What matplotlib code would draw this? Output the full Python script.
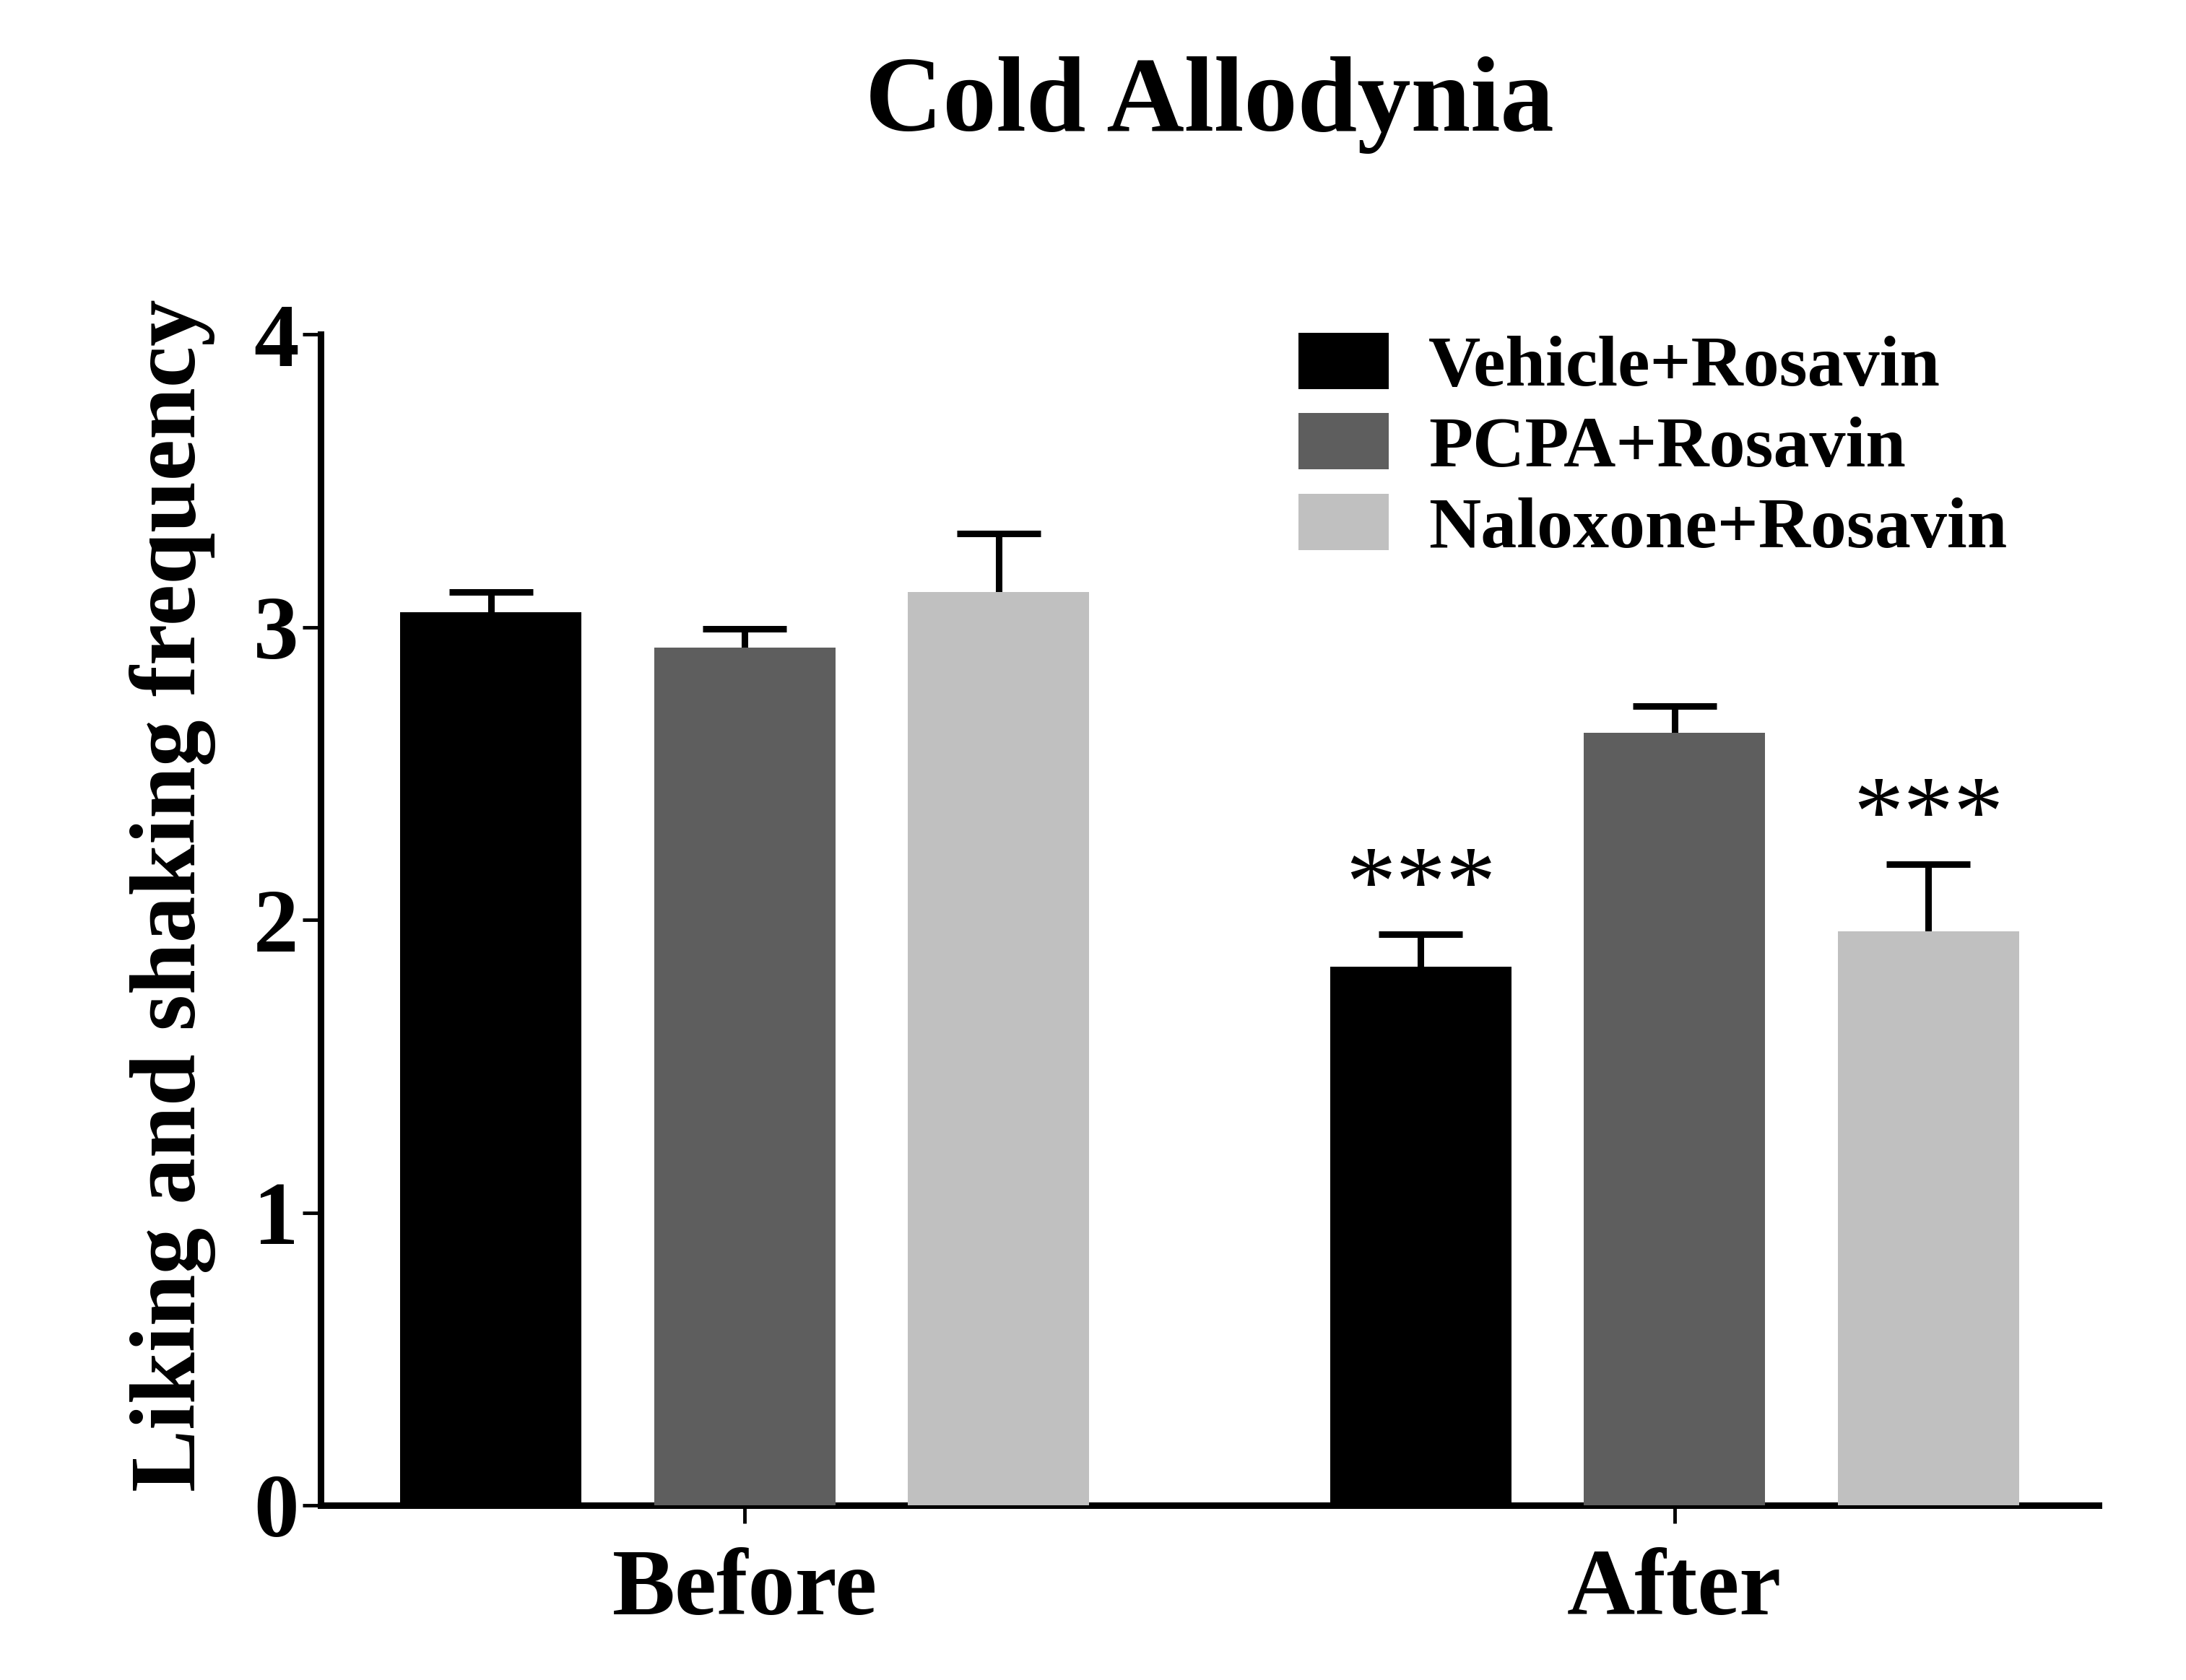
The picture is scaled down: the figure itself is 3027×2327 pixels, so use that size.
import matplotlib.pyplot as plt
import numpy as np

plt.rcParams['font.family'] = ['Liberation Serif', 'DejaVu Serif']
plt.rcParams['font.weight'] = 'bold'

groups = ['Before', 'After']
series = ['Vehicle+Rosavin', 'PCPA+Rosavin', 'Naloxone+Rosavin']
colors = ['#000000', '#5e5e5e', '#c0c0c0']

# bar means and upper error (SEM) per series: [Before, After]
means = [[3.05, 1.84],
         [2.93, 2.64],
         [3.12, 1.96]]
errs = [[0.07, 0.11],
        [0.065, 0.09],
        [0.20, 0.23]]
stars = [['', '***'],
         ['', ''],
         ['', '***']]

fig, ax = plt.subplots(figsize=(30.27, 23.27), dpi=100)
fig.subplots_adjust(left=0.1467, right=0.960, bottom=0.104, top=0.801)

x = np.arange(len(groups))
offsets = [-0.273, 0, 0.273]
width = 0.195

for i in range(len(series)):
    m = np.array(means[i])
    e = np.array(errs[i])
    # bars sit on top of the symmetric error bar so only the upper half shows
    ax.bar(x + offsets[i], m, width, color=colors[i], label=series[i], zorder=3)
    ax.errorbar(x + offsets[i], m, yerr=e, fmt='none',
                ecolor='black', elinewidth=6.5, capsize=42, capthick=6.5, zorder=2)
    for j in range(len(groups)):
        if stars[i][j]:
            ax.text(x[j] + offsets[i], m[j] + e[j] + 0.15, stars[i][j],
                    ha='center', va='center', fontsize=100, fontweight='normal')

ax.set_xlim(-0.456, 1.456)
ax.set_ylim(0, 4)
ax.set_yticks([0, 1, 2, 3, 4])
ax.set_xticks(x)
ax.set_xticklabels(groups)

for s in ['top', 'right']:
    ax.spines[s].set_visible(False)
ax.spines['left'].set_linewidth(6.5)
ax.spines['bottom'].set_linewidth(6.5)

ax.tick_params(axis='y', length=18, width=3.5, pad=4, labelsize=90)
ax.tick_params(axis='x', length=18, width=3.5, pad=25, labelsize=94)

ax.set_ylabel('Liking and shaking frequency', fontsize=93, fontweight='bold')
ax.yaxis.set_label_coords(-0.059, 0.521)
ax.set_title('Cold Allodynia', fontsize=107, fontweight='bold', pad=203)

ax.legend(loc='upper left', bbox_to_anchor=(0.594, 0.802), bbox_transform=fig.transFigure,
          frameon=False, fontsize=72, handlelength=1.25, handleheight=0.82,
          handletextpad=0.55, labelspacing=0.17, borderpad=0, borderaxespad=0)

fig.savefig('out.png', dpi=100)
